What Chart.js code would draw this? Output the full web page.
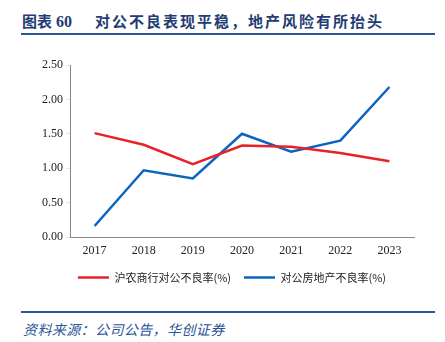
<!DOCTYPE html>
<html>
<head>
<meta charset="utf-8">
<script src="https://cdn.jsdelivr.net/npm/chart.js@4"></script>
<style>
  body { margin: 0; background: #fff; width: 445px; height: 342px; position: relative; overflow: hidden; }
  .title { position: absolute; left: 22px; top: 10px; font-family: "Noto Sans CJK SC"; font-weight: bold; font-size: 15px; color: #1f3c73; white-space: pre; }
  .title .num { margin-left: 4px; margin-right: 23px; font-family: "Liberation Serif"; font-size: 16px; }
  .title .main { letter-spacing: 2px; }
  .rule { position: absolute; left: 21px; width: 414px; height: 2px; background: #2a5696; }
  .source { position: absolute; left: 23px; top: 319px; font-family: "Noto Sans CJK SC"; font-style: italic; font-size: 14px; letter-spacing: 0.4px; color: #2a5696; }
  .box { position: absolute; left: 0; top: 40px; width: 445px; height: 260px; }
</style>
</head>
<body>
<div class="title">图表<span class="num">60</span><span class="main">对公不良表现平稳，地产风险有所抬头</span></div>
<div class="rule" style="top:33px"></div>
<div class="box"><canvas id="lineChart"></canvas></div>
<div class="rule" style="top:311px"></div>
<div class="source">资料来源：公司公告，华创证券</div>
<script>
// Data
const years = ['2017', '2018', '2019', '2020', '2021', '2022', '2023'];
const corpNpl = [1.51, 1.34, 1.06, 1.33, 1.31, 1.22, 1.10];
const realEstateNpl = [0.16, 0.97, 0.85, 1.50, 1.24, 1.40, 2.18];
const yTicks = [0, 0.5, 1.0, 1.5, 2.0, 2.5];

const serif = "'Liberation Serif', 'Times New Roman', serif";

// nudge the legend a little to the right, like the original
const legendShift = {
    id: 'legendShift',
    afterLayout(chart) {
        chart.legend.left += 10;
        chart.legend.right += 10;
    }
};

const ctx = document.getElementById('lineChart').getContext('2d');

const myChart = new Chart(ctx, {
    type: 'line',
    data: {
        labels: years,
        datasets: [{
            label: '沪农商行对公不良率(%)',
            data: corpNpl,
            borderColor: '#e8212b',
            backgroundColor: '#e8212b',
            borderWidth: 2.5,
            pointRadius: 0,
            tension: 0
        }, {
            label: '对公房地产不良率(%)',
            data: realEstateNpl,
            borderColor: '#0b65bf',
            backgroundColor: '#0b65bf',
            borderWidth: 2.5,
            pointRadius: 0,
            tension: 0
        }]
    },
    options: {
        responsive: true,
        maintainAspectRatio: false,
        animation: false,
        layout: { padding: { left: 30, right: 31, top: 25, bottom: 7 } },
        plugins: {
            tooltip: { enabled: false },
            legend: {
                position: 'bottom',
                labels: {
                    usePointStyle: true,
                    pointStyle: 'line',
                    pointStyleWidth: 31,
                    boxHeight: 3,
                    padding: 13,
                    color: '#222',
                    font: { family: "'Noto Sans CJK SC'", size: 11 }
                }
            }
        },
        scales: {
            x: {
                offset: true,
                grid: { display: false, drawOnChartArea: false, offset: true, tickLength: 4 },
                border: { color: '#888', width: 1 },
                ticks: { color: '#222', font: { family: serif, size: 12 }, padding: 3 },
                afterFit: s => { s.height = 22; }
            },
            y: {
                min: 0,
                max: 2.5,
                afterBuildTicks: s => { s.ticks = yTicks.map(v => ({ value: v })); },
                grid: { drawOnChartArea: false, tickLength: 4 },
                border: { color: '#888', width: 1 },
                ticks: {
                    color: '#222',
                    font: { family: serif, size: 12 },
                    padding: 3,
                    callback: v => v.toFixed(2)
                },
                afterFit: s => { s.width = 40; }
            }
        }
    },
    plugins: [legendShift]
});
myChart.update();
</script>
</body>
</html>
